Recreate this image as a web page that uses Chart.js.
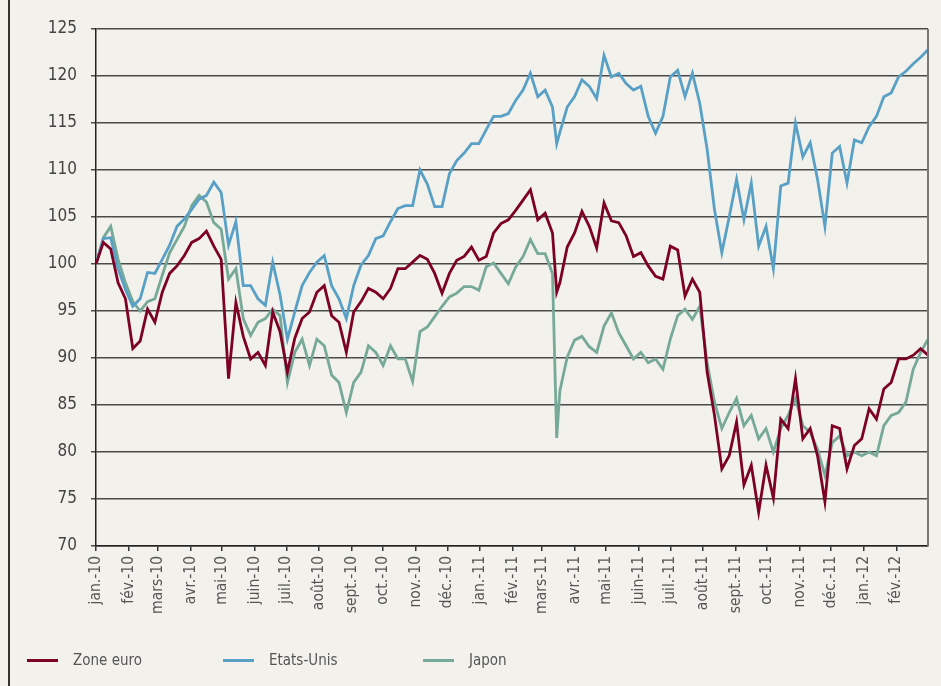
<!DOCTYPE html>
<html>
<head>
<meta charset="utf-8">
<script src="https://cdn.jsdelivr.net/npm/chart.js@4.4.1/dist/chart.umd.min.js"></script>
<style>
  html, body { margin: 0; padding: 0; background: #f2f1eb; }
  #wrap { position: relative; width: 941px; height: 686px; overflow: hidden; }
  #frame { position: absolute; left: 8px; top: 0; width: 2px; height: 686px; background: #333; }
  canvas { position: absolute; left: 0; top: 0; }
  .leg { position: absolute; top: 651px; font: 15px "DejaVu Sans Condensed", "Roboto", sans-serif; color: #555; }
  .leg span { display: inline-block; width: 31px; height: 3px; vertical-align: middle; margin-right: 15px; }
</style>
</head>
<body>
<div id="wrap">
  <div id="frame"></div>
  <canvas id="chart" width="941" height="686"></canvas>
  <div class="leg" style="left:27px"><span style="background:#7d0025"></span>Zone euro</div>
  <div class="leg" style="left:223px"><span style="background:#58a0c6"></span>Etats-Unis</div>
  <div class="leg" style="left:423px"><span style="background:#77a998"></span>Japon</div>
</div>
<script>
// x tick labels, one per month from jan. 2010
const monthLabels = ['jan.-10', 'fév.-10', 'mars-10', 'avr.-10', 'mai-10', 'juin-10', 'juil.-10', 'août-10',
  'sept.-10', 'oct.-10', 'nov.-10', 'déc.-10', 'jan.-11', 'fév.-11', 'mars-11', 'avr.-11', 'mai-11', 'juin-11',
  'juil.-11', 'août-11', 'sept.-11', 'oct.-11', 'nov.-11', 'déc.-11', 'jan.-12', 'fév.-12'];

// weekly observations (days since 1 jan 2010), plus 15 march 2011
const days = [];
for (let w = 0; w <= 113; w++) {
  if (w === 63) days.push(438);
  days.push(w * 7);
}

const zoneEuro = [100, 102.3, 101.6, 98, 96.3, 91, 91.8, 95.2, 93.8, 97, 99, 99.8, 100.9, 102.3, 102.7, 103.5,
  101.9, 100.5, 87.8, 95.9, 92.3, 89.9, 90.6, 89.2, 94.9, 92.8, 88.5, 92.1, 94.2, 94.9, 97, 97.7, 94.5, 93.8,
  90.6, 94.9, 96, 97.4, 97, 96.3, 97.4, 99.5, 99.5, 100.2, 100.9, 100.5, 99, 96.9, 99, 100.4, 100.8, 101.8,
  100.4, 100.8, 103.3, 104.3, 104.7, 105.7, 106.8, 107.9, 104.7, 105.4, 103.3, 97, 98, 101.8, 103.3, 105.6,
  104, 101.7, 106.5, 104.6, 104.4, 103, 100.8, 101.2, 99.8, 98.7, 98.4, 101.9, 101.5, 96.6, 98.4, 97, 88.5,
  83.9, 78.2, 79.6, 83.2, 76.5, 78.6, 73.6, 78.6, 75.1, 83.5, 82.5, 87.8, 81.4, 82.5, 79.6, 74.7, 82.8, 82.5,
  78.2, 80.7, 81.4, 84.6, 83.5, 86.7, 87.4, 89.9, 89.9, 90.3, 91, 90.3];

const etatsUnis = [100, 102.7, 102.8, 99.5, 97.3, 95.5, 96.3, 99.1, 99, 100.5, 102, 104, 104.8, 105.8, 106.9,
  107.3, 108.7, 107.6, 102, 104.5, 97.7, 97.7, 96.3, 95.6, 100.2, 96.7, 92, 94.9, 97.7, 99.1, 100.2, 100.9,
  97.7, 96.3, 94.2, 97.7, 99.9, 100.9, 102.7, 103, 104.5, 105.9, 106.2, 106.2, 110, 108.5, 106.1, 106.1,
  109.6, 111, 111.8, 112.8, 112.8, 114.3, 115.7, 115.7, 116, 117.4, 118.5, 120.3, 117.8, 118.5, 116.7, 112.8,
  114, 116.7, 117.8, 119.6, 118.9, 117.6, 122.2, 119.9, 120.3, 119.2, 118.5, 118.9, 115.7, 113.9, 115.7,
  119.9, 120.6, 117.8, 120.3, 117.1, 112.2, 105.8, 101.2, 105, 109, 104.7, 108.6, 101.9, 104, 99.5, 108.3,
  108.6, 115, 111.4, 112.9, 109, 104, 111.8, 112.5, 108.6, 113.2, 112.9, 114.6, 115.7, 117.8, 118.2, 119.9,
  120.5, 121.3, 122, 122.8];

const japon = [100, 102.8, 104, 100.5, 98, 96, 95, 96, 96.3, 98.8, 101.2, 102.6, 104, 106.2, 107.3, 106.6,
  104.4, 103.7, 98.4, 99.5, 94.2, 92.4, 93.8, 94.2, 95.2, 94.5, 87.4, 90.6, 92, 89.2, 92, 91.3, 88.2, 87.4,
  84.2, 87.4, 88.5, 91.3, 90.6, 89.2, 91.3, 89.9, 89.9, 87.5, 92.8, 93.3, 94.4, 95.5, 96.5, 96.9, 97.6, 97.6,
  97.2, 99.7, 100.1, 99, 97.9, 99.7, 100.8, 102.6, 101.1, 101.1, 99, 81.5, 86.5, 90.1, 91.9, 92.3, 91.2, 90.6,
  93.4, 94.8, 92.7, 91.3, 89.9, 90.6, 89.5, 89.9, 88.8, 92, 94.5, 95.2, 94.1, 95.5, 89.5, 85.3, 82.5, 84.2,
  85.7, 82.8, 83.9, 81.4, 82.5, 80, 82.5, 83.9, 85.7, 82.8, 82.1, 80.3, 77.5, 81, 81.7, 79.6, 80, 79.6, 80,
  79.6, 82.8, 83.9, 84.2, 85.3, 88.8, 90.6, 92];

const monthDays = monthLabels.map((_, i) => (Date.UTC(2010, i, 1) - Date.UTC(2010, 0, 1)) / 86400000);
const pts = arr => arr.map((v, i) => ({ x: days[i], y: v }));

const fontFamily = '"DejaVu Sans Condensed", "Roboto", sans-serif';

const rightBorder = {
  id: 'rightBorder',
  afterDraw(chart) {
    const { ctx, chartArea } = chart;
    ctx.save();
    ctx.strokeStyle = '#777';
    ctx.lineWidth = 2;
    ctx.beginPath();
    ctx.moveTo(chartArea.right, chartArea.top);
    ctx.lineTo(chartArea.right, chartArea.bottom);
    ctx.stroke();
    ctx.restore();
  }
};

new Chart(document.getElementById('chart'), {
  type: 'line',
  data: {
    datasets: [
      { label: 'Zone euro', data: pts(zoneEuro), borderColor: '#7d0025' },
      { label: 'Etats-Unis', data: pts(etatsUnis), borderColor: '#58a0c6' },
      { label: 'Japon', data: pts(japon), borderColor: '#77a998' }
    ]
  },
  options: {
    responsive: false,
    animation: false,
    layout: { padding: { top: 29, right: 13, left: 0, bottom: 0 } },
    elements: {
      line: { borderWidth: 2.8, tension: 0 },
      point: { radius: 0 }
    },
    plugins: { legend: { display: false }, tooltip: { enabled: false } },
    scales: {
      x: {
        type: 'linear',
        min: 0,
        max: 791,
        afterBuildTicks: scale => { scale.ticks = monthDays.map(d => ({ value: d })); },
        afterFit: scale => { scale.height = 140; },
        grid: { drawOnChartArea: false, tickLength: 5, color: '#333', lineWidth: 1.5 },
        border: { color: '#222', width: 1.5 },
        ticks: {
          autoSkip: false,
          minRotation: 90,
          maxRotation: 90,
          padding: 5,
          color: '#555',
          font: { family: fontFamily, size: 15.5 },
          callback: (v, i) => monthLabels[i]
        }
      },
      y: {
        min: 70,
        max: 125,
        afterFit: scale => { scale.width = 96; },
        grid: { color: '#4a4a4a', lineWidth: 1.5, tickLength: 5 },
        border: { color: '#222', width: 1.5 },
        ticks: {
          stepSize: 5,
          padding: 14,
          color: '#444',
          font: { family: fontFamily, size: 17 }
        }
      }
    }
  },
  plugins: [rightBorder]
});
</script>
</body>
</html>
